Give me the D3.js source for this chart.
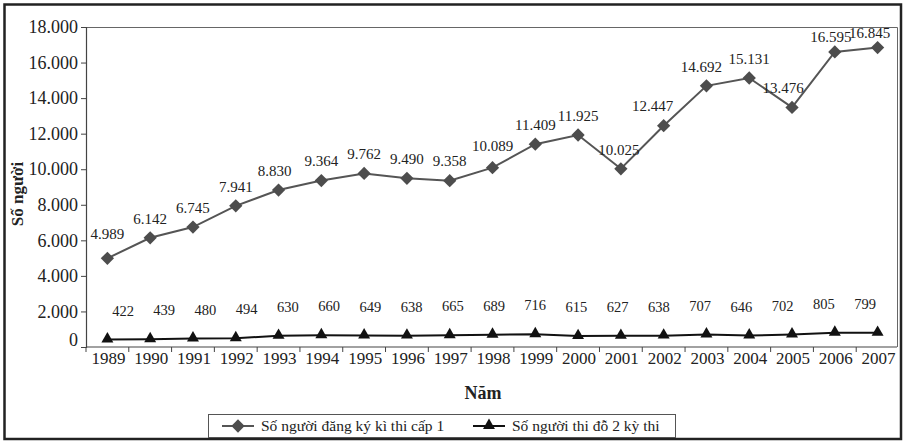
<!DOCTYPE html>
<html><head><meta charset="utf-8">
<script src="https://cdn.jsdelivr.net/npm/d3@7"></script>
<style>body{margin:0;background:#fff} text{font-family:"Liberation Serif","Times New Roman",serif;fill:#222}</style>
</head><body><svg id="c" width="905" height="442"></svg>
<script>
const years = [1989,1990,1991,1992,1993,1994,1995,1996,1997,1998,1999,2000,2001,2002,2003,2004,2005,2006,2007];
const registered = [4989,6142,6745,7941,8830,9364,9762,9490,9358,10089,11409,11925,10025,12447,14692,15131,13476,16595,16845];
const passed = [422,439,480,494,630,660,649,638,665,689,716,615,627,638,707,646,702,805,799];
const yTicks = [0,2000,4000,6000,8000,10000,12000,14000,16000,18000];
const seriesNames = ["Số người đăng ký kì thi cấp 1","Số người thi đỗ 2 kỳ thi"];
const xTitle = "Năm";
const yTitle = "Số người";

// layout-only label nudges (pixels)
const regNudge = {1989:[0,-5],1993:[-4,0],1998:[0,-2],2001:[-2,0],2002:[-11,0],2003:[-5,0],2005:[-9,0],2006:[-4,4],2007:[-8,5]};

const svg = d3.select("#c");
const fmt = d3.formatLocale({decimal:",",thousands:".",grouping:[3],currency:["",""]}).format(",d");

const L=86,R=897,T=27,B=347;
const x = d3.scaleBand().domain(years).range([L,899]).padding(0);
const y = d3.scaleLinear().domain([0,18000]).range([B,T]);
const cx = d => x(d)+x.bandwidth()/2;
const labelX = d3.scalePoint().domain(years).range([123,865]);

// outer frame
svg.append("rect").attr("x",4.5).attr("y",4.5).attr("width",896.5).attr("height",434.5)
  .attr("fill","none").attr("stroke","#222").attr("stroke-width",2.5);

// plot frame top/right
svg.append("path").attr("d",`M${L},${T+0.5}H${R+0.5}V${B}`).attr("fill","none").attr("stroke","#666").attr("stroke-width",1);

// y axis
const yAxis = svg.append("g").attr("transform",`translate(${L},0)`)
  .call(d3.axisLeft(y).tickValues(yTicks).tickFormat(fmt).tickSize(5).tickPadding(3));
yAxis.select(".domain").attr("stroke","#444").attr("stroke-width",1.2);
yAxis.selectAll(".tick line").attr("stroke","#444");
yAxis.selectAll(".tick text").attr("font-size",18).attr("fill","#222").style("font-family","Liberation Serif, serif");
yAxis.selectAll(".tick").filter(d=>d===0).select("text").attr("dy","-0.1em");

// x axis line and boundary ticks
svg.append("line").attr("x1",L).attr("x2",R).attr("y1",B).attr("y2",B).attr("stroke","#444").attr("stroke-width",1.2);
svg.append("g").selectAll("line").data(years).join("line")
  .attr("x1",d=>x(d)).attr("x2",d=>x(d)).attr("y1",B).attr("y2",B+5).attr("stroke","#444");
svg.append("g").selectAll("text").data(years).join("text")
  .attr("x",d=>cx(d)+1).attr("y",B+17).attr("text-anchor","middle").attr("font-size",17).text(d=>d);

// titles
svg.append("text").attr("x",483).attr("y",399).attr("text-anchor","middle").attr("font-size",18).attr("font-weight","bold").text(xTitle);
svg.append("text").attr("transform","translate(23,194) rotate(-90)").attr("text-anchor","middle").attr("font-size",17).attr("font-weight","bold").text(yTitle);

// series lines
const regData = years.map((yr,i)=>({yr,v:registered[i]}));
const passData = years.map((yr,i)=>({yr,v:passed[i]}));
const line = d3.line().x(d=>cx(d.yr)).y(d=>y(d.v));
svg.append("path").datum(regData).attr("d",line).attr("fill","none").attr("stroke","#555").attr("stroke-width",2);
svg.append("path").datum(passData).attr("d",line).attr("fill","none").attr("stroke","#111").attr("stroke-width",2);

const diamond = d3.symbol().type(d3.symbolSquare).size(88);
const tri = d3.symbol().type(d3.symbolTriangle).size(62);
svg.append("g").selectAll("path").data(regData).join("path")
  .attr("d",diamond).attr("transform",d=>`translate(${cx(d.yr)},${y(d.v)}) rotate(45)`).attr("fill","#4d4d4d");
svg.append("g").selectAll("path").data(passData).join("path")
  .attr("d",tri).attr("transform",d=>`translate(${cx(d.yr)},${y(d.v)-0.5})`).attr("fill","#111");

// data labels
svg.append("g").selectAll("text").data(regData).join("text")
  .attr("x",d=>cx(d.yr)+(regNudge[d.yr]?regNudge[d.yr][0]:0))
  .attr("y",d=>y(d.v)-19.5+(regNudge[d.yr]?regNudge[d.yr][1]:0))
  .attr("dy","0.35em").attr("text-anchor","middle").attr("font-size",15).text(d=>fmt(d.v));
svg.append("g").selectAll("text").data(passData).join("text")
  .attr("x",d=>labelX(d.yr)).attr("y",d=>y(d.v)-29)
  .attr("dy","0.35em").attr("text-anchor","middle").attr("font-size",14.5).text(d=>fmt(d.v));

// legend
const lg = svg.append("g");
lg.append("rect").attr("x",208.5).attr("y",414.5).attr("width",467).attr("height",23).attr("fill","#fff").attr("stroke","#555");
const items = [{x:222,name:seriesNames[0],sym:"d",c:"#555"},{x:473,name:seriesNames[1],sym:"t",c:"#111"}];
items.forEach(it=>{
  lg.append("line").attr("x1",it.x).attr("x2",it.x+32).attr("y1",426).attr("y2",426).attr("stroke",it.c).attr("stroke-width",2);
  if(it.sym==="d") lg.append("path").attr("d",diamond).attr("transform",`translate(${it.x+16},426) rotate(45)`).attr("fill","#4d4d4d");
  else lg.append("path").attr("d",tri).attr("transform",`translate(${it.x+16},425.5)`).attr("fill","#111");
  lg.append("text").attr("x",it.x+39).attr("y",426).attr("dy","0.35em").attr("font-size",15.5).text(it.name);
});
</script></body></html>
